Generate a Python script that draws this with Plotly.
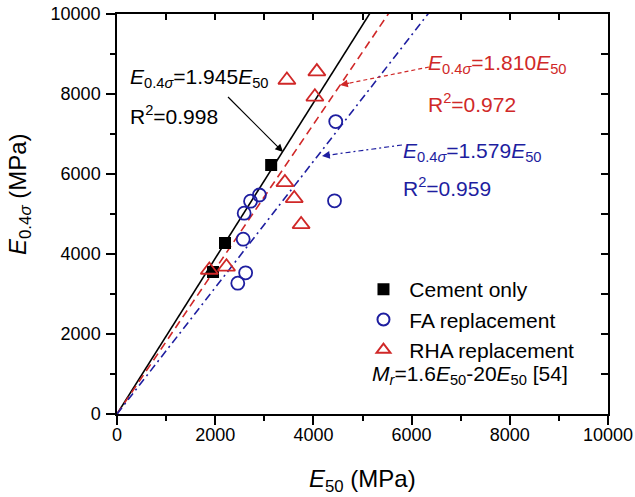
import plotly.graph_objects as go

# ---------------- data ----------------
cement_x = [1955, 2200, 3140]
cement_y = [3550, 4275, 6225]

fa_x = [2460, 2620, 2570, 2590, 2720, 2900, 4430, 4455]
fa_y = [3270, 3530, 4370, 5020, 5320, 5475, 5330, 7310]

rha_x = [1880, 2230, 3420, 3610, 3750, 3460, 4070, 4030]
rha_y = [3600, 3680, 5790, 5390, 4740, 8350, 8560, 7930]

fit_labels = ["Cement only", "RHA replacement", "FA replacement"]
fit_slopes = [1.945, 1.810, 1.579]
fit_r2 = [0.998, 0.972, 0.959]
fit_x = [0, 10000]

x_ticks = [0, 2000, 4000, 6000, 8000, 10000]
y_ticks = [0, 2000, 4000, 6000, 8000, 10000]

BLACK = "#000000"
RED = "#D02828"
BLUE = "#1E1EA0"
FONT = "Liberation Sans, Arial, sans-serif"
NB = "\u00a0"

fig = go.Figure()

# fit lines
line_styles = [
    dict(color=BLACK, width=1.6, dash="solid"),
    dict(color=RED, width=1.6, dash="8px,5px"),
    dict(color=BLUE, width=1.6, dash="8px,4px,2px,4px"),
]
for s, st in zip(fit_slopes, line_styles):
    fig.add_trace(go.Scatter(x=fit_x, y=[s * v for v in fit_x], mode="lines",
                             line=st, showlegend=False, hoverinfo="skip"))

# data points
fig.add_trace(go.Scatter(x=cement_x, y=cement_y, mode="markers", name=NB + "Cement only",
                         marker=dict(symbol="square", size=12, color=BLACK,
                                     line=dict(width=0))))
fig.add_trace(go.Scatter(x=fa_x, y=fa_y, mode="markers", name=NB + "FA replacement",
                         marker=dict(symbol="circle-open", size=13, color=BLUE,
                                     line=dict(width=1.8, color=BLUE))))
fig.add_trace(go.Scatter(x=rha_x, y=rha_y, mode="markers", name=NB + "RHA replacement",
                         marker=dict(symbol="triangle-up-open", size=15, color=RED,
                                     line=dict(width=1.8, color=RED))))

# dummy trace for the mirrored (inside-tick) axes
fig.add_trace(go.Scatter(x=[None], y=[None], xaxis="x2", yaxis="y2",
                         showlegend=False, hoverinfo="skip"))

# ---- annotation arrows (shafts as shapes, heads as annotations) ----
arrows = [
    # (tail_x, tail_y, head_x, head_y, colour, dash)
    (2261, 7925, 3381, 6550, BLACK, "solid"),
    (6354, 8675, 4542, 8225, RED, "4px,3px"),
    (5804, 6725, 4175, 6450, BLUE, "5px,3px,2px,3px"),
]
for tx, ty, hx, hy, col, dash in arrows:
    fig.add_shape(type="line", x0=tx, y0=ty, x1=hx + (tx - hx) * 0.08, y1=hy + (ty - hy) * 0.08,
                  line=dict(color=col, width=1.2, dash=dash), xref="x", yref="y")
    fig.add_annotation(x=hx, y=hy, ax=hx + (tx - hx) * 0.12, ay=hy + (ty - hy) * 0.12,
                       axref="x", ayref="y", xref="x", yref="y", text="",
                       showarrow=True, arrowhead=2, arrowsize=1.3, arrowwidth=1.2,
                       arrowcolor=col)

E04 = "<i>E</i><sub>0.4<i>σ</i></sub>"
E50 = "<i>E</i><sub>50</sub>"

text_pos = [
    # (x_left, y_eq, y_r2, colour)
    (230, 8400, 7475, BLACK),
    (6300, 8750, 7775, RED),
    (5790, 6550, 5675, BLUE),
]
for (xl, ye, yr, col), s, r2 in zip(text_pos, fit_slopes, fit_r2):
    fig.add_annotation(x=xl, y=ye, xref="x", yref="y", xanchor="left", yanchor="middle",
                       text=f"{E04}={s:.3f}{E50}", showarrow=False,
                       font=dict(family=FONT, size=21, color=col))
    fig.add_annotation(x=xl, y=yr, xref="x", yref="y", xanchor="left", yanchor="middle",
                       text=f"R<sup>2</sup>={r2:.3f}", showarrow=False,
                       font=dict(family=FONT, size=21, color=col))

fig.add_annotation(x=5153, y=975, xref="x", yref="y", xanchor="left", yanchor="middle",
                   text=f"<i>M</i><sub><i>r</i></sub>=1.6{E50}-20{E50} [54]", showarrow=False,
                   font=dict(family=FONT, size=21, color=BLACK))

# axis titles
fig.add_annotation(x=-0.1976, y=0.55, xref="paper", yref="paper", textangle=-90,
                   text=f"{E04} (MPa)", showarrow=False, xanchor="center", yanchor="middle",
                   font=dict(family=FONT, size=24, color=BLACK))
fig.add_annotation(x=0.5, y=-0.165, xref="paper", yref="paper",
                   text=f"{E50} (MPa)", showarrow=False, xanchor="center", yanchor="middle",
                   font=dict(family=FONT, size=24, color=BLACK))

axis_common = dict(range=[0, 10000], showgrid=False, zeroline=False, automargin=False,
                   showline=True, linecolor=BLACK, linewidth=1.5)

fig.update_layout(
    width=635, height=497,
    margin=dict(l=117, r=27, t=14, b=83, autoexpand=False),
    paper_bgcolor="white", plot_bgcolor="white",
    font=dict(family=FONT, size=18, color=BLACK),
    xaxis=dict(**axis_common, tickmode="array", tickvals=x_ticks,
               ticktext=[str(v) for v in x_ticks],
               ticks="outside", ticklen=9, tickwidth=1.5, tickcolor=BLACK,
               minor=dict(ticks="outside", ticklen=5, dtick=1000, tickwidth=1.5, tickcolor=BLACK),
               tickfont=dict(size=18), ticklabelstandoff=-5),
    yaxis=dict(**axis_common, tickmode="array", tickvals=y_ticks,
               ticktext=[str(v) for v in y_ticks],
               ticks="outside", ticklen=9, tickwidth=1.5, tickcolor=BLACK,
               minor=dict(ticks="outside", ticklen=5, dtick=1000, tickwidth=1.5, tickcolor=BLACK),
               tickfont=dict(size=18), ticklabelstandoff=2),
    xaxis2=dict(**axis_common, overlaying="x", side="top", anchor="y2",
                ticks="inside", ticklen=6, tickwidth=1.5, tickcolor=BLACK,
                dtick=1000, tick0=0, showticklabels=False),
    yaxis2=dict(**axis_common, overlaying="y", side="right", anchor="x2",
                ticks="inside", ticklen=7, tickwidth=1.5, tickcolor=BLACK,
                dtick=1000, tick0=0, showticklabels=False),
    legend=dict(x=0.502, y=0.3625, xanchor="left", yanchor="top",
                bgcolor="rgba(0,0,0,0)", font=dict(family=FONT, size=21),
                itemsizing="constant", tracegroupgap=0),
    showlegend=True,
)

fig.write_html("out.html")
